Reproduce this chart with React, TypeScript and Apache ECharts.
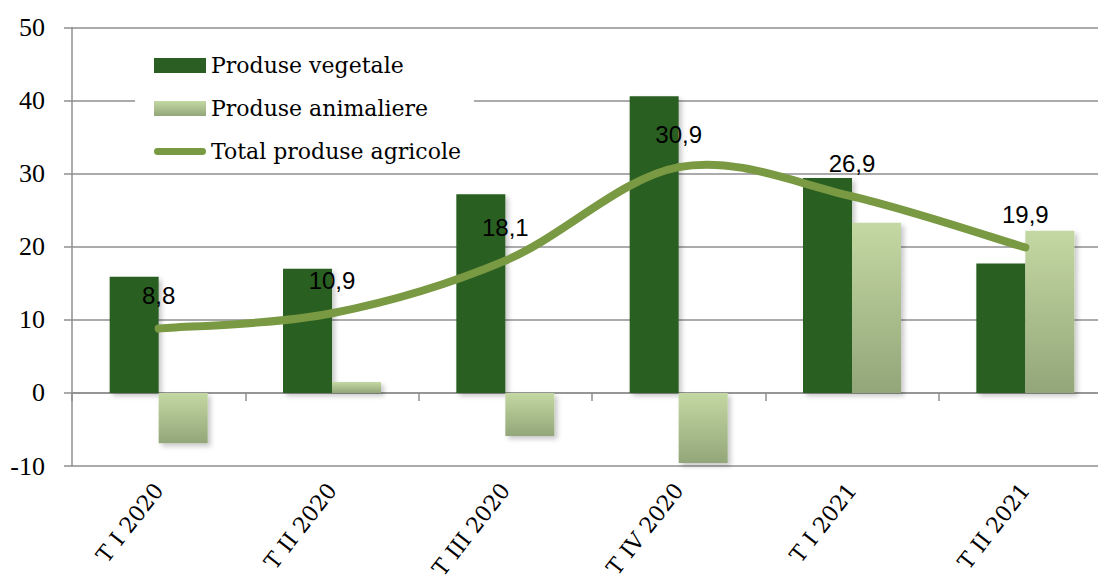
import React, { useEffect, useRef } from "react";
import * as echarts from "echarts";

const categories = ["T I 2020", "T II 2020", "T III 2020", "T IV 2020", "T I 2021", "T II 2021"];
const vegetale = [15.9, 17.0, 27.2, 40.6, 29.4, 17.7];
const animaliere = [-6.9, 1.5, -5.9, -9.6, 23.3, 22.2];
const total = [8.8, 10.9, 18.1, 30.9, 26.9, 19.9];
const seriesNames = ["Produse vegetale", "Produse animaliere", "Total produse agricole"];
const yMin = -10;
const yMax = 50;
const yStep = 10;

const LINE_COLOR = "#799943";

export default function App() {
  const ref = useRef<HTMLDivElement>(null);
  useEffect(() => {
    if (!ref.current) return;
    const chart = echarts.init(ref.current, null, { renderer: "svg" });
    const gridColor = "#8f8f8f";
    const shadow = {
      shadowColor: "rgba(0,0,0,0.22)",
      shadowBlur: 5,
      shadowOffsetX: 3,
      shadowOffsetY: 3,
    };
    const lightGrad = new echarts.graphic.LinearGradient(0, 0, 0, 1, [
      { offset: 0, color: "#c4d8a3" },
      { offset: 1, color: "#93a679" },
    ]);

    // Smooth curve (Catmull-Rom, like the spreadsheet's smoothed line) through the
    // points placed by the chart's own axes.
    const renderTotal = (params: any, api: any) => {
      const i = params.dataIndex;
      const n = total.length;
      const P = (k: number) => {
        const kk = Math.max(0, Math.min(n - 1, k));
        return api.coord([kk, total[kk]]);
      };
      const children: any[] = [];
      const p0 = P(i);
      if (i < n - 1) {
        const pm = P(i - 1);
        const p1 = P(i + 1);
        const p2 = P(i + 2);
        children.push({
          type: "bezierCurve",
          shape: {
            x1: p0[0],
            y1: p0[1],
            x2: p1[0],
            y2: p1[1],
            cpx1: p0[0] + (p1[0] - pm[0]) / 6,
            cpy1: p0[1] + (p1[1] - pm[1]) / 6,
            cpx2: p1[0] - (p2[0] - p0[0]) / 6,
            cpy2: p1[1] - (p2[1] - p0[1]) / 6,
          },
          style: {
            fill: "none",
            stroke: LINE_COLOR,
            lineWidth: 8,
            lineCap: "round",
          },
          z2: 1,
        });
      }
      children.push({
        type: "text",
        x: p0[0],
        y: p0[1] - 21,
        style: {
          text: String(total[i]).replace(".", ","),
          fontFamily: "Liberation Sans",
          fontSize: 24,
          fill: "#000",
          align: "center",
          verticalAlign: "bottom",
        },
        z2: 10,
      });
      return { type: "group", children };
    };

    chart.setOption({
      animation: false,
      backgroundColor: "#ffffff",
      grid: {
        left: 72,
        top: 27.5,
        right: -14,
        bottom: 119,
        containLabel: false,
        outerBoundsMode: "none",
      },
      legend: {
        orient: "vertical",
        left: 135,
        top: 36,
        padding: [18.5, 13, 7, 19],
        backgroundColor: "#ffffff",
        itemWidth: 52,
        itemHeight: 15,
        itemGap: 21,
        textStyle: { fontFamily: "DejaVu Serif", fontSize: 22, color: "#000" },
        data: [
          { name: seriesNames[0], icon: "rect" },
          { name: seriesNames[1], icon: "rect" },
          {
            name: seriesNames[2],
            icon: "path://M4,0 L56,0 A4,4 0 0 1 56,8 L4,8 A4,4 0 0 1 4,0 Z",
            itemStyle: { color: LINE_COLOR },
          },
        ],
      },
      xAxis: [
        {
          type: "category",
          data: categories,
          position: "bottom",
          axisLine: { onZero: true, lineStyle: { color: gridColor, width: 1.5 } },
          axisTick: { show: true, length: 8, inside: false, lineStyle: { color: gridColor, width: 1.5 } },
          axisLabel: { show: false },
          splitLine: { show: false },
        },
        {
          type: "category",
          data: categories,
          position: "bottom",
          axisLine: { show: false, onZero: false },
          axisTick: { show: false },
          axisLabel: {
            rotate: 52,
            margin: 20,
            fontFamily: "DejaVu Serif",
            fontSize: 22,
            color: "#000",
          },
          splitLine: { show: false },
        },
      ],
      yAxis: {
        type: "value",
        min: yMin,
        max: yMax,
        interval: yStep,
        axisLine: { show: true, lineStyle: { color: gridColor, width: 1.5 } },
        axisTick: { show: true, length: 8, lineStyle: { color: gridColor, width: 1.5 } },
        axisLabel: {
          margin: 27,
          fontFamily: "Liberation Serif",
          fontSize: 26,
          color: "#000",
        },
        splitLine: { show: true, lineStyle: { color: gridColor, width: 1.5 } },
      },
      series: [
        {
          name: seriesNames[0],
          type: "bar",
          xAxisIndex: 0,
          data: vegetale,
          barWidth: 49,
          barGap: "0%",
          itemStyle: { color: "#2a5e22", ...shadow },
          z: 2,
        },
        {
          name: seriesNames[1],
          type: "bar",
          xAxisIndex: 0,
          data: animaliere,
          barWidth: 49,
          barGap: "0%",
          itemStyle: { color: lightGrad, ...shadow },
          z: 2,
        },
        {
          name: seriesNames[2],
          type: "custom",
          xAxisIndex: 0,
          yAxisIndex: 0,
          coordinateSystem: "cartesian2d",
          data: total.map((v, i) => [i, v]),
          encode: { x: 0, y: 1 },
          itemStyle: { color: LINE_COLOR },
          renderItem: renderTotal,
          clip: false,
          z: 5,
        },
      ],
    });
    return () => chart.dispose();
  }, []);
  return (
    <div
      ref={ref}
      style={{ position: "absolute", left: 0, top: 0, width: 1098, height: 585 }}
    />
  );
}
